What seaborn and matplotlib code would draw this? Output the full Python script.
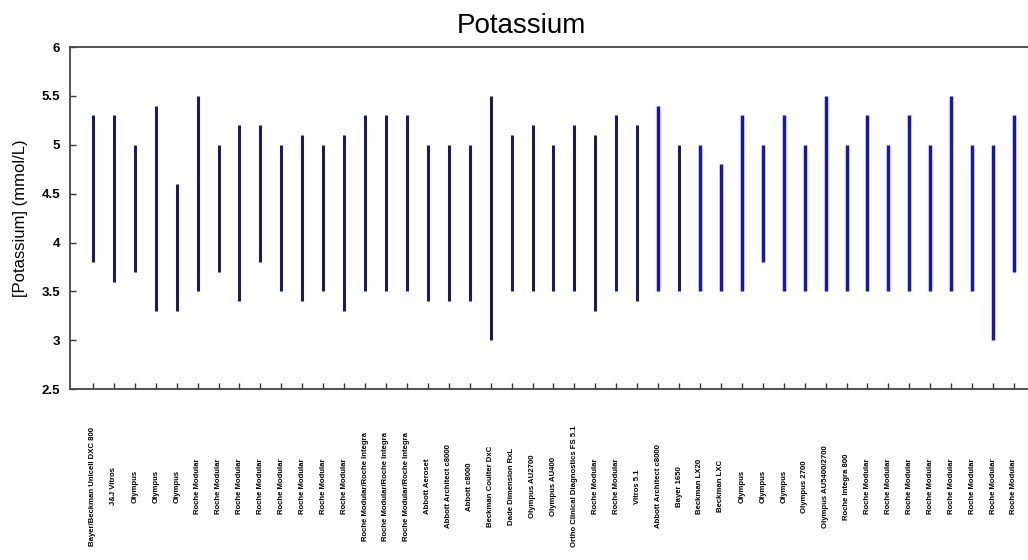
import pandas as pd
import seaborn as sns
import matplotlib.pyplot as plt

# analizadores (orden del grafico original)
labs = [
    "Bayer/Beckman Unicell DXC 800", "J&J Vitros", "Olympus", "Olympus", "Olympus",
    "Roche Modular", "Roche Modular", "Roche Modular", "Roche Modular", "Roche Modular",
    "Roche Modular", "Roche Modular", "Roche Modular",
    "Roche Modular/Roche Integra", "Roche Modular/Roche Integra", "Roche Modular/Roche Integra",
    "Abbott Aeroset", "Abbott Architect c8000", "Abbott c8000", "Beckman Coulter DxC",
    "Dade Dimension RxL", "Olympus AU2700", "Olympus AU400",
    "Ortho Clinical Diagnostics FS 5.1", "Roche Modular", "Roche Modular", "Vitros 5.1",
    "Abbott Architect c8000", "Bayer 1650", "Beckman LX20", "Beckman LXC",
    "Olympus", "Olympus", "Olympus", "Olympus 2700", "Olympus AU5400/2700",
    "Roche Integra 800", "Roche Modular", "Roche Modular", "Roche Modular",
    "Roche Modular", "Roche Modular", "Roche Modular", "Roche Modular", "Roche Modular",
]

# limites del intervalo de referencia (mmol/L)
lower = [3.8, 3.6, 3.7, 3.3, 3.3, 3.5, 3.7, 3.4, 3.8, 3.5, 3.4, 3.5, 3.3, 3.5, 3.5,
         3.5, 3.4, 3.4, 3.4, 3.0, 3.5, 3.5, 3.5, 3.5, 3.3, 3.5, 3.4, 3.5, 3.5, 3.5,
         3.5, 3.5, 3.8, 3.5, 3.5, 3.5, 3.5, 3.5, 3.5, 3.5, 3.5, 3.5, 3.5, 3.0, 3.7]
upper = [5.3, 5.3, 5.0, 5.4, 4.6, 5.5, 5.0, 5.2, 5.2, 5.0, 5.1, 5.0, 5.1, 5.3, 5.3,
         5.3, 5.0, 5.0, 5.0, 5.5, 5.1, 5.2, 5.0, 5.2, 5.1, 5.3, 5.2, 5.4, 5.0, 5.0,
         4.8, 5.3, 5.0, 5.3, 5.0, 5.5, 5.0, 5.3, 5.0, 5.3, 5.0, 5.5, 5.0, 5.0, 5.3]

yticks = [2.5, 3, 3.5, 4, 4.5, 5, 5.5, 6]
ytick_labels = ["2.5", "3", "3.5", "4", "4.5", "5", "5.5", "6"]

# tabla larga: dos puntos por analizador -> una linea vertical cada uno
filas = []
for i, (lo, hi) in enumerate(zip(lower, upper)):
    grupo = "a" if (i < 27 or i == 28) else "b"
    filas.append({"idx": i, "valor": lo, "grupo": grupo})
    filas.append({"idx": i, "valor": hi, "grupo": grupo})
df = pd.DataFrame(filas)

sns.set_style("white")
plt.rcParams["font.family"] = ["Liberation Sans", "DejaVu Sans"]
plt.rcParams["text.color"] = "black"
plt.rcParams["axes.labelcolor"] = "black"
plt.rcParams["xtick.color"] = "black"
plt.rcParams["ytick.color"] = "black"

fig = plt.figure(figsize=(10.28, 5.6), dpi=100)
ax = fig.add_axes([0.068, 0.305, 0.932, 0.611])

sns.lineplot(data=df, x="idx", y="valor", units="idx", estimator=None,
             hue="grupo", palette={"a": "#1c1c5c", "b": "#1515b8"},
             size="grupo", sizes={"a": 2.2, "b": 2.5},
             legend=False, ax=ax)
for ln in ax.lines:
    ln.set_solid_capstyle("butt")

ax.set_xlim(-1.1, 44.67)
ax.set_ylim(2.5, 6)
ax.set_yticks(yticks)
ax.set_yticklabels(ytick_labels, fontsize=9.5, fontweight="bold")
ax.set_xticks(range(len(labs)))
ax.set_xticklabels(labs, rotation=90, fontsize=5.6, fontweight="bold",
                   va="center", ha="center")
ax.tick_params(axis="x", bottom=True, direction="in", length=4, pad=70,
               width=1, color="#333333")
ax.tick_params(axis="y", left=True, direction="in", length=4, pad=7,
               width=1, color="#333333")

ax.set_xlabel("")
ax.set_ylabel("[Potassium] (mmol/L)", fontsize=12, labelpad=10)
ax.set_title("Potassium", fontsize=20, pad=10, x=(521 - 70) / 958, color="black")

for s in ["left", "bottom", "top"]:
    ax.spines[s].set_color("#444444")
    ax.spines[s].set_linewidth(1.3)
ax.spines["right"].set_visible(False)

fig.savefig("out.png", dpi=100)
